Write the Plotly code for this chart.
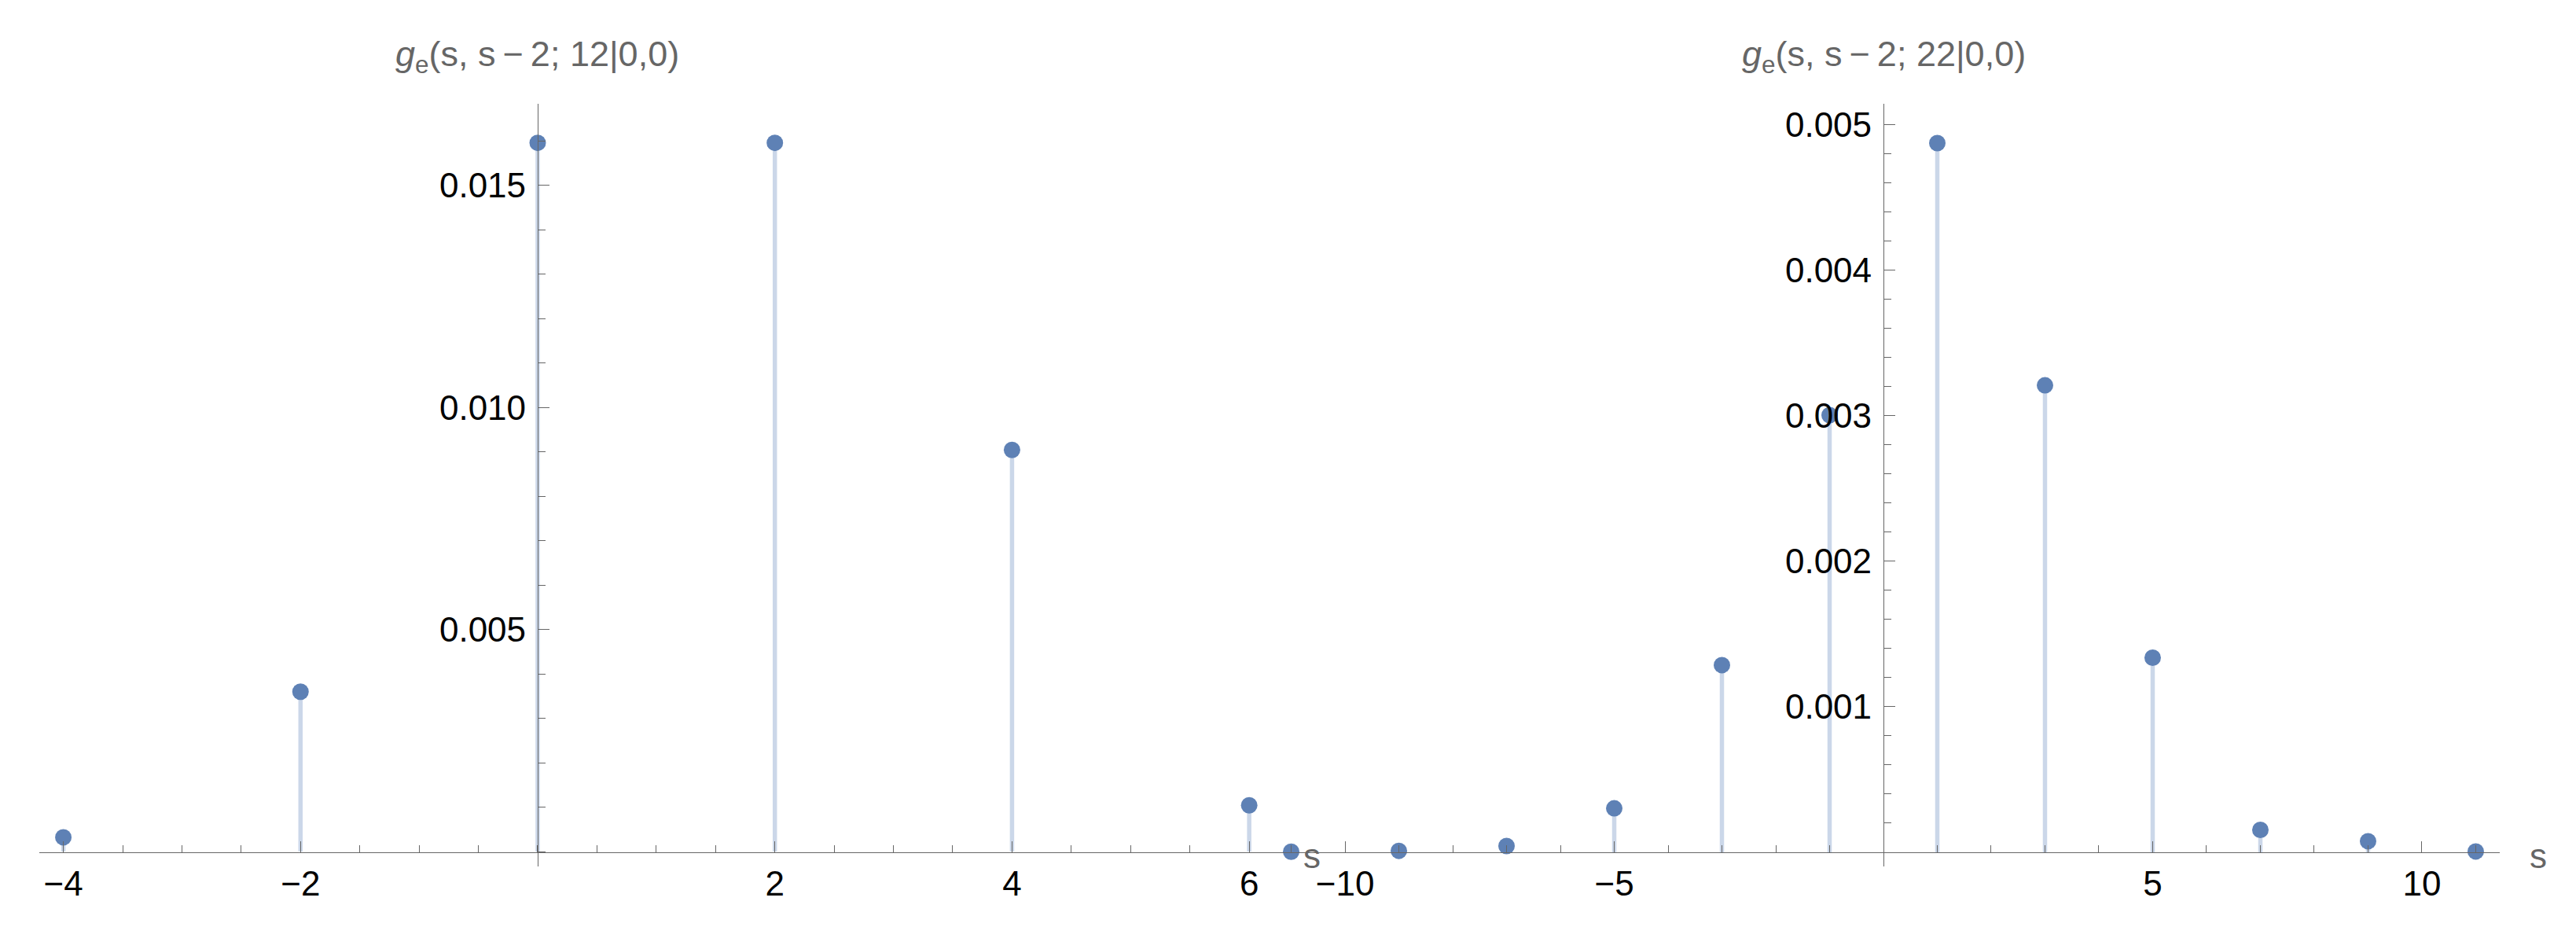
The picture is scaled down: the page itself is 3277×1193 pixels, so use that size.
import plotly.graph_objects as go

# data
s_12 = [-4, -2, 0, 2, 4, 6]
g_12 = [0.00032, 0.0036, 0.01596, 0.01596, 0.009045, 0.00104]

s_22 = [-11, -9, -7, -5, -3, -1, 1, 3, 5, 7, 9, 11]
g_22 = [0.000004, 0.00001, 0.000043, 0.000302, 0.001286, 0.003003,
        0.004872, 0.003208, 0.001337, 0.000154, 0.000076, 0.000006]

xticks_12 = [-4, -2, 2, 4, 6]
xlabels_12 = ["\u22124", "\u22122", "2", "4", "6"]
yticks_12 = [0.005, 0.010, 0.015]
ylabels_12 = ["0.005", "0.010", "0.015"]

xticks_22 = [-10, -5, 5, 10]
xlabels_22 = ["\u221210", "\u22125", "5", "10"]
yticks_22 = [0.001, 0.002, 0.003, 0.004, 0.005]
ylabels_22 = ["0.001", "0.002", "0.003", "0.004", "0.005"]

title_12 = "<i>g</i><sub>e</sub>(s, s\u2009\u2212\u20092; 12|0,0)"
title_22 = "<i>g</i><sub>e</sub>(s, s\u2009\u2212\u20092; 22|0,0)"

W, H = 3277, 1193
DOT = "#5E81B5"
STEM = "#CBD7E9"
AXC = "#666666"
FONT = "Liberation Sans, Arial, sans-serif"


def stems(x, y, xa, ya):
    return go.Scatter(
        x=x, y=y, xaxis=xa, yaxis=ya, mode="markers",
        marker=dict(size=21, color=DOT),
        error_y=dict(type="data", symmetric=False, array=[0] * len(y),
                     arrayminus=y, width=0, thickness=5.5, color=STEM),
        cliponaxis=False, hoverinfo="x+y",
    )


fig = go.Figure([stems(s_12, g_12, "x", "y"), stems(s_22, g_22, "x2", "y2")])

ybot, ytop = (H - 1102) / H, (H - 132) / H
x0pos = (H - 1084) / H

common_x = dict(
    anchor="free", position=x0pos, showline=True, linecolor=AXC, linewidth=1.3,
    ticks="inside", ticklen=14, tickwidth=1.3, tickcolor=AXC,
    showgrid=False, zeroline=False, tickmode="array",
    tickfont=dict(family=FONT, size=44, color="black"), ticklabelstandoff=1,
)
common_y = dict(
    showline=True, linecolor=AXC, linewidth=1.3,
    ticks="inside", ticklen=14, tickwidth=1.3, tickcolor=AXC,
    showgrid=False, zeroline=False, tickmode="array", domain=[ybot, ytop],
    tickfont=dict(family=FONT, size=44, color="black"), ticklabelstandoff=6,
)
minor_style = dict(ticks="inside", ticklen=9, tickwidth=1.3, tickcolor=AXC, showgrid=False)

fig.update_layout(
    width=W, height=H, autosize=False,
    margin=dict(l=0, r=0, t=0, b=0),
    paper_bgcolor="white", plot_bgcolor="rgba(0,0,0,0)",
    showlegend=False,
    xaxis=dict(common_x, domain=[50.4 / W, 1619.3 / W], range=[-4.2, 6.2],
               tickvals=xticks_12, ticktext=xlabels_12,
               minor=dict(minor_style, tick0=0, dtick=0.5)),
    yaxis=dict(common_y, anchor="free", position=684 / W,
               range=[-19 / 56533, 952 / 56533],
               tickvals=yticks_12, ticktext=ylabels_12,
               minor=dict(minor_style, tick0=0, dtick=0.001)),
    xaxis2=dict(common_x, domain=[1612.4 / W, 3179.6 / W], range=[-11.44, 11.44],
                tickvals=xticks_22, ticktext=xlabels_22,
                minor=dict(minor_style, tick0=0, dtick=1)),
    yaxis2=dict(common_y, anchor="free", position=2396 / W,
                range=[-18 / 185140, 952 / 185140],
                tickvals=yticks_22, ticktext=ylabels_22,
                minor=dict(minor_style, tick0=0, dtick=0.0002)),
    annotations=[
        dict(text=title_12, xref="x", x=0, yref="paper", y=(H - 71) / H,
             showarrow=False, xanchor="center", yanchor="middle",
             font=dict(family=FONT, size=45, color=AXC)),
        dict(text=title_22, xref="x2", x=0, yref="paper", y=(H - 71) / H,
             showarrow=False, xanchor="center", yanchor="middle",
             font=dict(family=FONT, size=45, color=AXC)),
        dict(text="s", xref="paper", x=1669 / W, yref="paper", y=(H - 1088) / H,
             showarrow=False, xanchor="center", yanchor="middle",
             font=dict(family=FONT, size=44, color=AXC)),
        dict(text="s", xref="paper", x=3229 / W, yref="paper", y=(H - 1088) / H,
             showarrow=False, xanchor="center", yanchor="middle",
             font=dict(family=FONT, size=44, color=AXC)),
    ],
)

fig.write_html("out.html", config={"displayModeBar": False},
               post_script="document.body.style.margin='0';")
